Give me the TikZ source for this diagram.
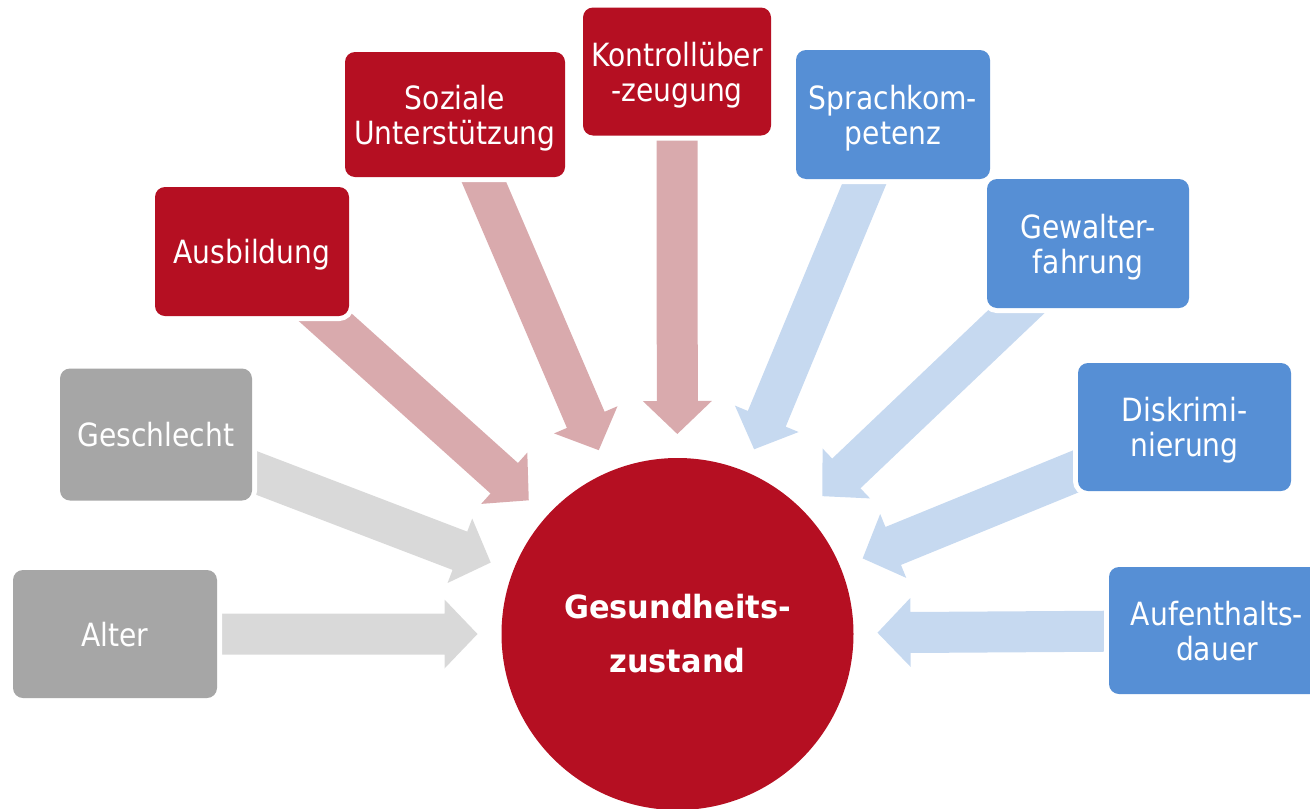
\documentclass[tikz,border=0pt]{standalone}
\usepackage{fontspec}
\setmainfont{DejaVu Sans}[FakeStretch=0.88]
\newfontfamily\ctrfont{DejaVu Sans}[FakeStretch=0.95]
\usetikzlibrary{calc,backgrounds}
\definecolor{dred}{HTML}{B50F22}
\definecolor{lred}{HTML}{D9AAAD}
\definecolor{dblue}{HTML}{568FD5}
\definecolor{lblue}{HTML}{C6D9F0}
\definecolor{dgrey}{HTML}{A6A6A6}
\definecolor{lgrey}{HTML}{D9D9D9}
\tikzset{
  box/.style={rounded corners=10pt, minimum height=128pt, text=white, align=center,
    inner sep=0pt, text depth=0pt, font=\fontsize{32}{35}\selectfont,
    preaction={draw=white, line width=10pt}},
  redbox/.style={box, fill=dred},
  bluebox/.style={box, fill=dblue},
  greybox/.style={box, fill=dgrey},
}
\newcommand\blockarrow[2]{%
  \fill[#2] ($(ctr.center)!200pt!(#1.center)$)
   -- ($(ctr.center)!233pt!(#1.center)!34.5pt!90:(#1.center)$)
   -- ($(ctr.center)!233pt!(#1.center)!20.5pt!90:(#1.center)$)
   -- ($(ctr.center)!0.95!(#1.center)!20.5pt!90:(#1.center)$)
   -- ($(ctr.center)!0.95!(#1.center)!20.5pt!-90:(#1.center)$)
   -- ($(ctr.center)!233pt!(#1.center)!20.5pt!-90:(#1.center)$)
   -- ($(ctr.center)!233pt!(#1.center)!34.5pt!-90:(#1.center)$) -- cycle;}
\begin{document}
\begin{tikzpicture}[x=1pt,y=-1pt]
\useasboundingbox (0,0) rectangle (1310,809);
\node[circle, fill=dred, minimum size=352pt, inner sep=0pt, text=white, align=center,
  font=\ctrfont\bfseries\fontsize{32}{54}\selectfont] (ctr) at (677.5,634) {Gesundheits-\\zustand};
\node[greybox, minimum width=204pt] (alter) at (115,634) {Alter};
\node[greybox, minimum width=192pt, minimum height=132pt] (geschl) at (156,434.5) {Geschlecht};
\node[redbox, minimum width=194pt, minimum height=129pt] (ausb) at (252,251.5) {Ausbildung};
\node[redbox, minimum width=220pt, minimum height=125pt] (sozial) at (455,114.5) {Soziale\\Unterstützung};
\node[redbox, minimum width=188pt] (kontroll) at (677,71.5) {Kontrollüber\\-zeugung};
\node[bluebox, minimum width=194pt, minimum height=129pt] (sprach) at (893,114.5) {Sprachkom-\\petenz};
\node[bluebox, minimum width=202pt, minimum height=129pt] (gewalt) at (1088,243.5) {Gewalter-\\fahrung};
\node[bluebox, minimum width=213pt] (diskrim) at (1184.5,427) {Diskrimi-\\nierung};
\node[bluebox, minimum width=216pt, minimum height=127pt] (aufent) at (1217,630.5) {Aufenthalts-\\dauer};
\begin{scope}[on background layer]
\blockarrow{alter}{lgrey}
\blockarrow{geschl}{lgrey}
\blockarrow{ausb}{lred}
\blockarrow{sozial}{lred}
\blockarrow{kontroll}{lred}
\blockarrow{sprach}{lblue}
\blockarrow{gewalt}{lblue}
\blockarrow{diskrim}{lblue}
\blockarrow{aufent}{lblue}
\end{scope}
\end{tikzpicture}
\end{document}
